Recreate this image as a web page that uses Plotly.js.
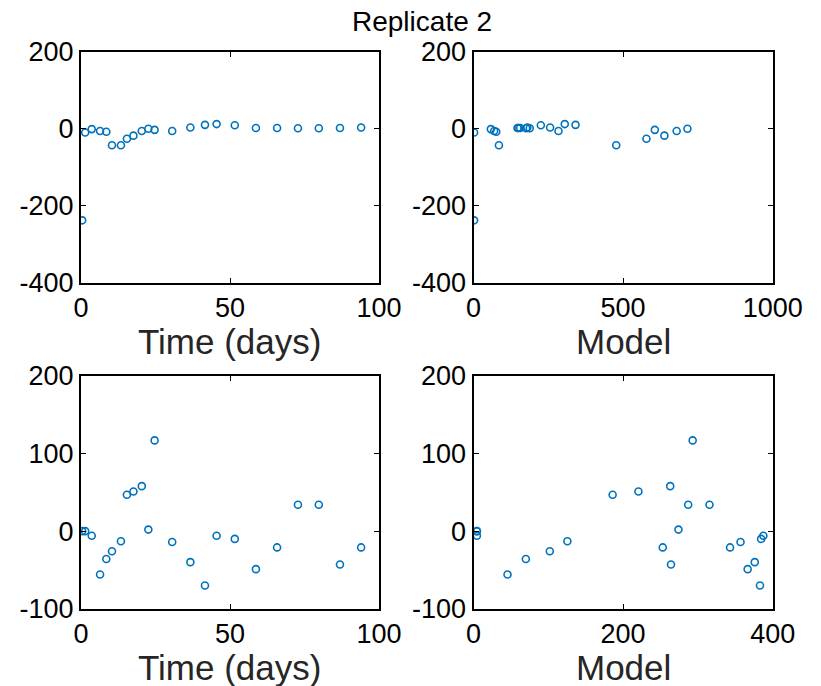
<!DOCTYPE html>
<html>
<head>
<meta charset="utf-8">
<script src="https://cdn.plot.ly/plotly-3.0.1.min.js"></script>
<style>html,body{margin:0;padding:0;background:#fff;}#chart{width:821px;height:686px;}</style>
</head>
<body>
<div id="chart"></div>
<script>
// Data
const timeDays = [0.4,1.4,3.6,6.4,8.5,10.4,13.4,15.4,17.6,20.4,22.6,24.7,30.6,36.7,41.6,45.5,51.6,58.7,65.8,72.8,79.8,86.9,94];
const residTop = [-238,-10,-1,-6,-8,-43,-43,-26,-18,-6,0,-3,-6,3,10,12,9,2,2,1,1,2,3];
const modelTop = [2,2,58,69,76,85,477,578,638,679,715,606,284,256,341,305,225,147,156,176,188,150,180];
const residBottom = [0,0,-6,-56,-36,-26,-13,47,51,58,2,117,-14,-40,-70,-6,-10,-49,-21,34,34,-43,-21];
const modelBottom = [4.5,4.5,4.5,45.5,70,102,125.5,186,220.5,263,274,293,357,376,383,387.5,384.5,366.5,253,287,315.5,264,343];

const titleText = "Replicate 2";
const xTitleTime = "Time (days)";
const xTitleModel = "Model";
const topYTicks = [-400,-200,0,200];
const bottomYTicks = [-100,0,100,200];
const timeTicks = [0,50,100];
const modelTopTicks = [0,500,1000];
const modelBottomTicks = [0,200,400];

const blue = "#0072BD";
const marker = {symbol: "circle-open", size: 7, color: blue, line: {width: 1.6, color: blue}};

function tr(x, y, xa, ya) {
  return {x: x, y: y, xaxis: xa, yaxis: ya, type: "scatter", mode: "markers", marker: marker, hoverinfo: "x+y", showlegend: false};
}

const data = [
  tr(timeDays, residTop, "x", "y"),
  tr(modelTop, residTop, "x2", "y2"),
  tr(timeDays, residBottom, "x3", "y3"),
  tr(modelBottom, residBottom, "x4", "y4")
];

const W = 821, H = 686;
const xl = [81/W, 379/W], xr = [473.5/W, 772.7/W];
const yt = [1 - 282.7/H, 1 - 51.7/H], yb = [1 - 608.7/H, 1 - 376/H];
const FAM = "Liberation Sans, Arial, sans-serif";
const tickFont = {family: FAM, size: 27, color: "#000"};

function ax(domain, range, ticks, anchor) {
  return {
    domain: domain, range: range, anchor: anchor,
    tickmode: "array", tickvals: ticks, ticktext: ticks.map(String),
    ticks: "inside", ticklen: 5, tickwidth: 1, tickcolor: "#000",
    showline: true, linecolor: "#000", linewidth: 2, mirror: "ticks",
    showgrid: false, zeroline: false, tickfont: tickFont, fixedrange: true
  };
}

function axTitle(text, xc, yc) {
  return {text: text, xref: "paper", yref: "paper", x: xc/W, y: 1 - yc/H, xanchor: "center", yanchor: "middle",
          showarrow: false, height: 40, valign: "middle",
          font: {family: FAM, size: 35, color: "#262626"}};
}

const layout = {
  width: W, height: H,
  margin: {l: 0, r: 0, t: 0, b: 0},
  paper_bgcolor: "#fff", plot_bgcolor: "#fff",
  showlegend: false,
  xaxis: ax(xl, [0,100], timeTicks, "y"),
  yaxis: ax(yt, [-400,200], topYTicks, "x"),
  xaxis2: ax(xr, [0,1000], modelTopTicks, "y2"),
  yaxis2: ax(yt, [-400,200], topYTicks, "x2"),
  xaxis3: ax(xl, [0,100], timeTicks, "y3"),
  yaxis3: ax(yb, [-100,200], bottomYTicks, "x3"),
  xaxis4: ax(xr, [0,400], modelBottomTicks, "y4"),
  yaxis4: ax(yb, [-100,200], bottomYTicks, "x4"),
  annotations: [
    {text: titleText, xref: "paper", yref: "paper", x: 422/W, y: 1 - 21/H, xanchor: "center", yanchor: "middle", showarrow: false,
     font: {family: FAM, size: 28, color: "#000"}},
    axTitle(xTitleTime, 230, 341),
    axTitle(xTitleModel, 623, 341),
    axTitle(xTitleTime, 230, 667),
    axTitle(xTitleModel, 623, 667)
  ]
};

Plotly.newPlot("chart", data, layout, {displayModeBar: false, staticPlot: true});
</script>
</body>
</html>
